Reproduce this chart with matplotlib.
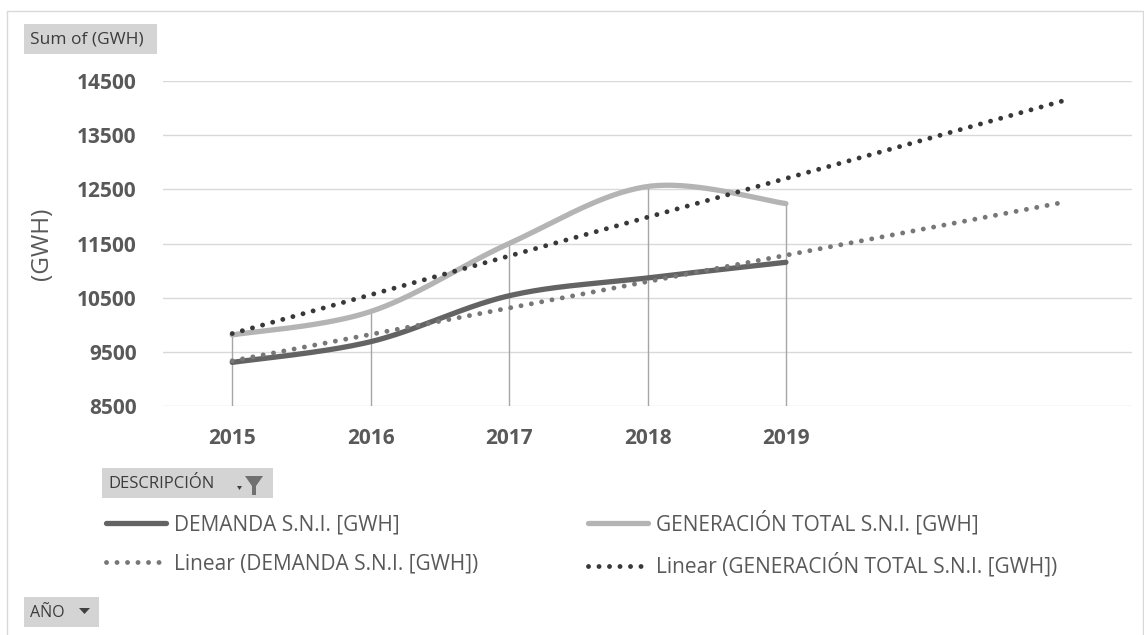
import numpy as np
import matplotlib
matplotlib.use('Agg')
import matplotlib.pyplot as plt
from matplotlib.patches import Rectangle, Polygon
from matplotlib.lines import Line2D

# data
years = ['2015', '2016', '2017', '2018', '2019']
demanda = [9305, 9687, 10535, 10864, 11153]
generacion = [9812, 10244, 11500, 12552, 12237]
yticks = [8500, 9500, 10500, 11500, 12500, 13500, 14500]
forward = 2  # trendline forecast periods

lbl_dem = 'DEMANDA S.N.I. [GWH]'
lbl_gen = 'GENERACIÓN TOTAL S.N.I. [GWH]'

W, H = 1144, 635
plt.rcParams['font.family'] = ['Open Sans', 'DejaVu Sans']

def px(x, y):
    # pixel position -> figure fraction
    return x / W, 1 - y / H

#Excel-like smoothed line (bezier through the points)
def smooth(x, y, n=40):
    P = np.column_stack([x, y]).astype(float)
    Q = np.vstack([P[0], P, P[-1]])
    t = np.linspace(0, 1, n)[:, None]
    pts = []
    for i in range(len(P) - 1):
        p0, p3 = P[i], P[i + 1]
        c1 = p0 + (Q[i + 2] - Q[i]) / 6
        c2 = p3 - (Q[i + 3] - Q[i + 1]) / 6
        seg = (1 - t)**3 * p0 + 3 * (1 - t)**2 * t * c1 + 3 * (1 - t) * t**2 * c2 + t**3 * p3
        pts.append(seg if i == 0 else seg[1:])
    pts = np.vstack(pts)
    return pts[:, 0], pts[:, 1]

fig = plt.figure(figsize=(W / 100, H / 100), dpi=100)
ax = fig.add_axes([163 / W, 1 - 406 / H, (1132 - 163) / W, (406 - 81) / H])

x = np.arange(1, len(years) + 1)

# gridlines + drop lines
for yv in yticks:
    ax.axhline(yv, color='#d9d9d9', lw=1, zorder=0)
tops = np.maximum(demanda, generacion)
ax.vlines(x, yticks[0], tops, color='#a6a6a6', lw=1, zorder=1)

sx, sy = smooth(x, generacion)
l_gen, = ax.plot(sx, sy, color='#b4b4b4', lw=3.8, solid_capstyle='round', zorder=2)
sx, sy = smooth(x, demanda)
l_dem, = ax.plot(sx, sy, color='#636363', lw=3.8, solid_capstyle='round', zorder=3)

xt = np.array([1, len(years) + forward])
dots = (0, (0.01, 2.15))
c = np.polyfit(x, demanda, 1)
l_dem_t, = ax.plot(xt, np.polyval(c, xt), color='#777777', lw=3.5,
                   linestyle=dots, dash_capstyle='round', zorder=4)
c = np.polyfit(x, generacion, 1)
l_gen_t, = ax.plot(xt, np.polyval(c, xt), color='#383838', lw=3.5,
                   linestyle=dots, dash_capstyle='round', zorder=4)

ax.set_xlim(0.5, len(years) + forward + 0.5)
ax.set_ylim(yticks[0], yticks[-1])
ax.set_xticks(x)
ax.set_xticklabels(years)
ax.set_yticks(yticks)
ax.tick_params(length=0, labelsize=15, labelcolor='#595959')
ax.tick_params(axis='y', pad=19)
ax.tick_params(axis='x', pad=16)
for t in ax.get_xticklabels() + ax.get_yticklabels():
    t.set_fontweight('bold')
for s in ax.spines.values():
    s.set_visible(False)
ax.set_ylabel('(GWH)', fontsize=17.5, color='#595959')
ax.yaxis.set_label_coords(-0.1125, 0.5)

# legends, one per column
leg_kw = dict(loc='center left', frameon=False, fontsize=15, borderpad=0,
              borderaxespad=0, handlelength=2.9, handletextpad=0.35,
              labelspacing=0.85, labelcolor='#595959')
fig.legend([l_dem, l_dem_t], [lbl_dem, 'Linear (' + lbl_dem + ')'],
           bbox_to_anchor=px(106, 544.5), **leg_kw)
fig.legend([l_gen, l_gen_t], [lbl_gen, 'Linear (' + lbl_gen + ')'],
           bbox_to_anchor=px(588, 544.5), **leg_kw)

# pivot field buttons
def button(x0, y0, x1, y1, text, size):
    fx, fy = px(x0, y1)
    fig.patches.append(Rectangle((fx, fy), (x1 - x0) / W, (y1 - y0) / H,
                                 transform=fig.transFigure, facecolor='#d4d4d4',
                                 edgecolor='none', zorder=1))
    tx, ty = px(x0 + 6, (y0 + y1) / 2 + 1)
    fig.text(tx, ty, text, fontsize=size, color='#3c3c3c', va='center', ha='left')

button(24, 24, 157, 54, 'Sum of (GWH)', 12.5)
button(102, 468, 273, 498, 'DESCRIPCIÓN', 12)
button(24, 597, 99, 627, 'AÑO', 11.5)

def poly(points, color):
    fig.patches.append(Polygon([px(a, b) for a, b in points], closed=True,
                               transform=fig.transFigure, facecolor=color,
                               edgecolor='none', zorder=2))

# small arrow + funnel on DESCRIPCIÓN, arrow on AÑO
poly([(237, 486), (242, 486), (239.5, 490)], '#404040')
poly([(245, 476), (263, 476), (256, 486), (256, 495), (252, 495), (252, 486)], '#707070')
poly([(79, 608), (90, 608), (84.5, 614)], '#404040')

# chart border
fig.lines.append(Line2D([7 / W, 7 / W, 1142.5 / W, 1142.5 / W],
                        [0, 1 - 11 / H, 1 - 11 / H, 0],
                        transform=fig.transFigure, color='#d9d9d9', lw=1))

fig.savefig('out.png', dpi=100, facecolor='white')
